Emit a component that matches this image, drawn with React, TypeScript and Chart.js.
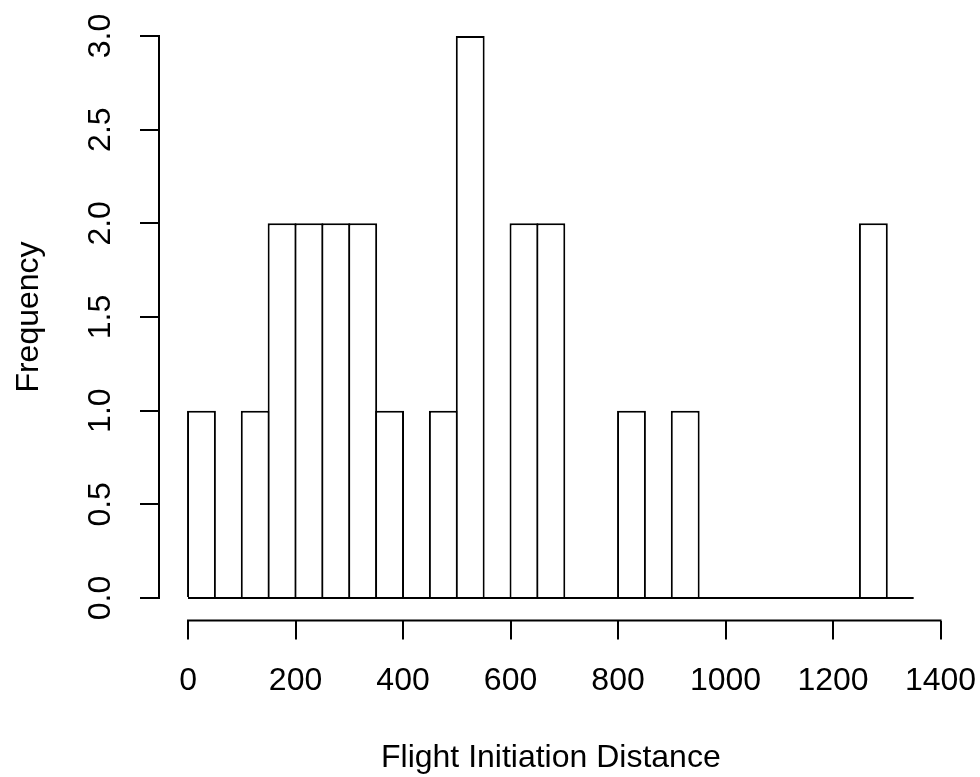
import React, { useEffect, useRef } from "react";
import { Chart, registerables } from "chart.js";

Chart.register(...registerables);

// Histogram data (R hist, breaks of width 50)
const binStarts = [0, 50, 100, 150, 200, 250, 300, 350, 400, 450, 500, 550, 600, 650, 700, 750, 800, 850, 900, 950, 1000, 1050, 1100, 1150, 1200, 1250, 1300];
const binWidth = 50;
const counts = [1, 0, 1, 2, 2, 2, 2, 1, 0, 1, 3, 0, 2, 2, 0, 0, 1, 0, 1, 0, 0, 0, 0, 0, 0, 2, 0];
const xTickValues = [0, 200, 400, 600, 800, 1000, 1200, 1400];
const yTickValues = [0, 0.5, 1, 1.5, 2, 2.5, 3];
const xTitle = "Flight Initiation Distance";
const yTitle = "Frequency";

const FONT = "'Liberation Sans', Arial, sans-serif";
const FS = 32;
const LW = 2;

export default function App() {
  const ref = useRef<HTMLCanvasElement | null>(null);

  useEffect(() => {
    const canvas = ref.current;
    if (!canvas) return;
    const first = binStarts[0];
    const last = binStarts[binStarts.length - 1] + binWidth;
    // R "usr" extent: data range extended by 4% each side
    const xPad = (last - first) * 0.04;
    const yMaxData = Math.max(...counts);
    const yPad = yMaxData * 0.04;

    const axisLines = {
      id: "rAxisLines",
      afterDraw(chart: any) {
        const ctx = chart.ctx;
        const xs = chart.scales.x;
        const ys = chart.scales.y;
        const area = chart.chartArea;
        ctx.save();
        ctx.strokeStyle = "#000";
        ctx.lineWidth = LW;
        ctx.lineCap = "square";
        ctx.beginPath();
        ctx.moveTo(xs.getPixelForValue(xTickValues[0]), area.bottom);
        ctx.lineTo(xs.getPixelForValue(xTickValues[xTickValues.length - 1]), area.bottom);
        ctx.moveTo(area.left, ys.getPixelForValue(yTickValues[0]));
        ctx.lineTo(area.left, ys.getPixelForValue(yTickValues[yTickValues.length - 1]));
        ctx.stroke();
        ctx.restore();
      },
    };

    const chart = new Chart(canvas, {
      type: "bar",
      data: {
        datasets: [
          {
            type: "bar",
            data: binStarts.map((s, i) => ({ x: s + binWidth / 2, y: counts[i] })),
            backgroundColor: "#ffffff",
            borderColor: "#000000",
            borderWidth: LW,
            borderSkipped: "start",
            barPercentage: 1.074,
            categoryPercentage: 1,
            order: 2,
          } as any,
          {
            type: "line",
            data: [
              { x: first, y: 0 },
              { x: last, y: 0 },
            ],
            borderColor: "#000000",
            borderWidth: LW,
            pointRadius: 0,
            fill: false,
            order: 1,
          } as any,
        ],
      },
      options: {
        responsive: false,
        animation: false,
        devicePixelRatio: 1,
        layout: { padding: { left: 0, top: 13.5, right: 37.3, bottom: 0 } },
        plugins: {
          legend: { display: false },
          tooltip: { enabled: false },
          title: { display: false },
        },
        scales: {
          x: {
            type: "linear",
            min: first - xPad,
            max: last + xPad,
            offset: false,
            afterFit(scale: any) {
              scale.height = 156.5;
              scale.paddingLeft = 0;
              scale.paddingRight = 0;
              scale.paddingTop = 0;
              scale.paddingBottom = 0;
            },
            afterBuildTicks(scale: any) {
              scale.ticks = xTickValues.map((v) => ({ value: v }));
            },
            grid: {
              display: true,
              offset: false,
              drawOnChartArea: false,
              drawTicks: true,
              tickLength: 19,
              lineWidth: LW,
              color: "#000",
            },
            border: { display: false },
            ticks: {
              autoSkip: false,
              maxRotation: 0,
              minRotation: 0,
              padding: 22,
              color: "#000",
              font: { family: FONT, size: FS },
              callback: (v: any) => String(v),
            },
            title: {
              display: true,
              text: xTitle,
              color: "#000",
              font: { family: FONT, size: FS },
              padding: { top: 0, bottom: 0 },
            },
          },
          y: {
            type: "linear",
            min: 0 - yPad,
            max: yMaxData + yPad,
            afterFit(scale: any) {
              scale.width = 159;
              scale.paddingLeft = 0;
              scale.paddingRight = 0;
              scale.paddingTop = 0;
              scale.paddingBottom = 0;
            },
            afterBuildTicks(scale: any) {
              scale.ticks = yTickValues.map((v) => ({ value: v }));
            },
            grid: {
              display: true,
              offset: false,
              drawOnChartArea: false,
              drawTicks: true,
              tickLength: 19,
              lineWidth: LW,
              color: "#000",
            },
            border: { display: false },
            ticks: {
              minRotation: 90,
              maxRotation: 90,
              crossAlign: "center",
              padding: 17,
              color: "#000",
              font: { family: FONT, size: FS },
              callback: (v: any) => Number(v).toFixed(1),
            },
            title: {
              display: true,
              text: yTitle,
              color: "#000",
              font: { family: FONT, size: FS },
              padding: { top: 10, bottom: 0 },
            },
          },
        },
      },
      plugins: [axisLines],
    } as any);

    return () => chart.destroy();
  }, []);

  return (
    <div style={{ position: "fixed", left: 0, top: 0, width: 980, height: 777, background: "#fff" }}>
      <canvas ref={ref} width={980} height={777} style={{ display: "block" }} />
    </div>
  );
}
